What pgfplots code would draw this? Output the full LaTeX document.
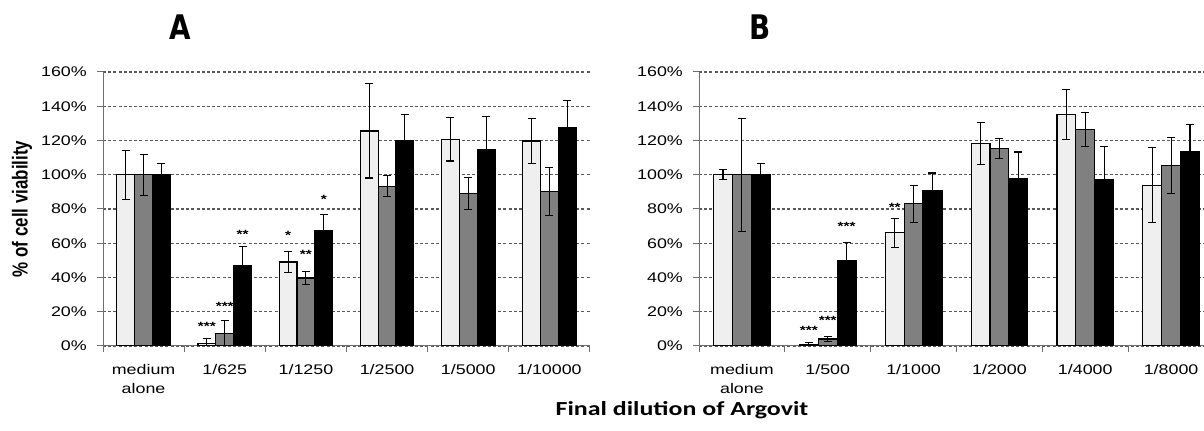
\documentclass[border=0pt]{standalone}
\usepackage{pgfplots}
\pgfplotsset{compat=1.18}
\usepackage{graphicx}
\usepackage{fontspec}
\setmainfont{Liberation Sans}
\newfontfamily\carlito{Carlito}
\newfontfamily\heavy{DejaVu Sans}
\definecolor{lightbar}{HTML}{EFEFEF}
\definecolor{midbar}{HTML}{808080}
\definecolor{axisgray}{HTML}{6E6E6E}
\definecolor{gridgray}{HTML}{5A5A5A}
\newcommand\sx[1]{\scalebox{1.28}[1]{#1}}
\newcommand\stx[1]{\scalebox{1.28}[1]{#1}}

\tikzset{stars/.style={anchor=base, inner sep=0pt, yshift=-6.8bp, font=\bfseries\fontsize{12}{12}\selectfont}}
\pgfplotsset{
  panel/.style={
    scale only axis, height=274bp,
    xmin=-0.5, xmax=5.5, ymin=0, ymax=160,
    axis x line*=bottom, axis y line*=left,
    axis line style={draw=axisgray, line width=1bp},
    ytick={0,20,...,160},
    yticklabels={\sx{0\%},\sx{20\%},\sx{40\%},\sx{60\%},\sx{80\%},\sx{100\%},\sx{120\%},\sx{140\%},\sx{160\%}},
    xtick={0,...,5},
    minor xtick={-0.5,0.5,...,5.5},
    tick align=outside,
    major tick length=6bp, minor tick length=6bp,
    tick style={draw=axisgray, line width=1bp},
    major x tick style={draw=none},
    ymajorgrids,
    major grid style={draw=gridgray, line width=1.1bp, dash pattern=on 3bp off 2.2bp},
    ybar=0pt, bar width=0.22,
    tick label style={font=\fontsize{14}{19}\selectfont, inner sep=0pt},
    yticklabel style={anchor=east, xshift=-10bp},
    xticklabel style={anchor=north, align=center, yshift=-12bp},
    every axis plot/.append style={draw=black, line width=1.2bp},
  },
  eb/.style={error bars/.cd, y dir=both, y explicit,
    error bar style={black, line width=1.1bp},
    error mark options={black, line width=1.1bp, mark size=4bp, rotate=90}},
}

\begin{document}
\begin{tikzpicture}
\useasboundingbox (0,0) rectangle (1204bp,431bp);

% Panel A
\begin{axis}[panel, at={(103bp,85bp)}, anchor=south west, width=487bp,
  xticklabels={{\sx{medium}\\\sx{alone}},\sx{1/625},\sx{1/1250},\sx{1/2500},\sx{1/5000},\sx{1/10000}},
  ylabel={\scalebox{1}[1.28]{\bfseries\fontsize{17}{17}\selectfont \% of cell viability}},
  ylabel style={at={(axis description cs:-0.1663,0.5)}, anchor=center, inner sep=0pt},
]
\addplot[fill=lightbar, eb] coordinates {
  (0,100) +- (0,14.3)
  (1,1.5) += (0,3) -= (0,1.5)
  (2,49) +- (0,6)
  (3,125.6) +- (0,27.5)
  (4,120.7) +- (0,12.7)
  (5,119.7) +- (0,13.2)
};
\addplot[fill=midbar, eb] coordinates {
  (0,100) +- (0,11.9)
  (1,7.4) +- (0,7.4)
  (2,39.7) +- (0,3.8)
  (3,93.3) +- (0,6)
  (4,89) +- (0,9.5)
  (5,90.4) +- (0,14)
};
\addplot[fill=black, eb] coordinates {
  (0,100) +- (0,6.5)
  (1,47.2) +- (0,11.1)
  (2,67.5) +- (0,9.5)
  (3,119.7) +- (0,15.4)
  (4,114.9) +- (0,19)
  (5,127.5) +- (0,16.1)
};
\node[stars] at (axis cs:0.78,12.8) {\stx{***}};
\node[stars] at (axis cs:1.00,24.9) {\stx{***}};
\node[stars] at (axis cs:1.22,66.7) {\stx{**}};
\node[stars] at (axis cs:1.78,66.1) {\stx{*}};
\node[stars] at (axis cs:2.00,55.0) {\stx{**}};
\node[stars] at (axis cs:2.22,87.1) {\stx{*}};
\end{axis}

% Panel B
\begin{axis}[panel, at={(699bp,85bp)}, anchor=south west, width=515bp,
  xticklabels={{\sx{medium}\\\sx{alone}},\sx{1/500},\sx{1/1000},\sx{1/2000},\sx{1/4000},\sx{1/8000}},
]
\addplot[fill=lightbar, eb] coordinates {
  (0,100) +- (0,2.9)
  (1,0.8) += (0,1.1) -= (0,0.8)
  (2,66.1) +- (0,8.5)
  (3,118.2) +- (0,12.3)
  (4,135.3) +- (0,14.7)
  (5,93.9) +- (0,22)
};
\addplot[fill=midbar, eb] coordinates {
  (0,100) +- (0,33)
  (1,4.1) +- (0,1.6)
  (2,83) +- (0,10.7)
  (3,115.3) +- (0,5.7)
  (4,126.6) +- (0,10)
  (5,105.6) +- (0,16.3)
};
\addplot[fill=black, eb] coordinates {
  (0,100) +- (0,6.5)
  (1,49.6) +- (0,11)
  (2,91) +- (0,10)
  (3,97.8) +- (0,15.5)
  (4,97.4) +- (0,18.9)
  (5,113.3) +- (0,16.1)
};
\node[stars] at (axis cs:0.78,10.7) {\stx{***}};
\node[stars] at (axis cs:1.00,16.7) {\stx{***}};
\node[stars] at (axis cs:1.22,71.2) {\stx{***}};
\node[stars] at (axis cs:1.78,82.8) {\stx{**}};
\end{axis}

\node at (180bp,404bp) {\scalebox{0.82}[1]{\heavy\bfseries\fontsize{34}{34}\selectfont A}};
\node at (760bp,404bp) {\scalebox{0.82}[1]{\heavy\bfseries\fontsize{34}{34}\selectfont B}};
\node at (682bp,21bp) {\scalebox{1.3}[1]{\carlito\bfseries\fontsize{20}{20}\selectfont Final dilution of Argovit}};
\end{tikzpicture}
\end{document}
